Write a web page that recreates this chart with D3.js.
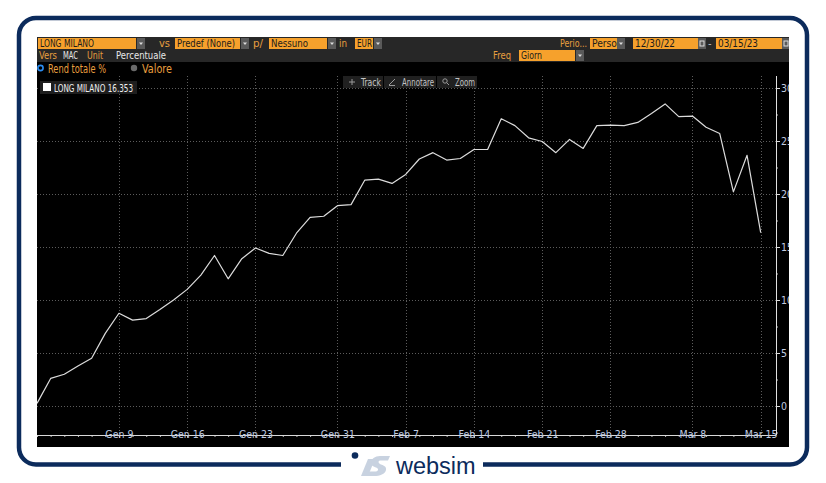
<!DOCTYPE html>
<html><head><meta charset="utf-8">
<script src="https://cdn.jsdelivr.net/npm/d3@7"></script>
<style>html,body{margin:0;padding:0;background:#fff;}svg{display:block;}</style>
</head><body>
<svg id="c" width="826" height="483"></svg>
<script>
// ---- data ----
const dates = ["2022-12-30",
 "2023-01-02","2023-01-03","2023-01-04","2023-01-05","2023-01-06","2023-01-09","2023-01-10","2023-01-11","2023-01-12","2023-01-13",
 "2023-01-16","2023-01-17","2023-01-18","2023-01-19","2023-01-20","2023-01-23","2023-01-24","2023-01-25","2023-01-26","2023-01-27",
 "2023-01-30","2023-01-31","2023-02-01","2023-02-02","2023-02-03","2023-02-06","2023-02-07","2023-02-08","2023-02-09","2023-02-10",
 "2023-02-13","2023-02-14","2023-02-15","2023-02-16","2023-02-17","2023-02-20","2023-02-21","2023-02-22","2023-02-23","2023-02-24",
 "2023-02-27","2023-02-28","2023-03-01","2023-03-02","2023-03-03","2023-03-06","2023-03-07","2023-03-08","2023-03-09","2023-03-10",
 "2023-03-13","2023-03-14","2023-03-15"];
const values = [0.25,2.6,3.0,3.77,4.5,6.85,8.75,8.1,8.25,9.1,10.0,11.0,12.35,14.2,12.0,13.9,14.9,14.4,14.2,16.3,17.8,17.9,18.9,19.0,
 21.3,21.4,21.0,21.85,23.3,23.9,23.2,23.35,24.2,24.2,27.1,26.45,25.3,24.95,23.9,25.15,24.3,26.45,26.5,26.45,26.75,27.6,28.5,27.3,27.35,
 26.3,25.7,20.2,23.65,16.353];
const tickDates = ["2023-01-09","2023-01-16","2023-01-23","2023-01-31","2023-02-07","2023-02-14","2023-02-21","2023-02-28","2023-03-08","2023-03-15"];
const tickLabels = ["Gen 9","Gen 16","Gen 23","Gen 31","Feb 7","Feb 14","Feb 21","Feb 28","Mar 8","Mar 15"];
const yTicks = [0,5,10,15,20,25,30];
const yMinor = [-2.5,2.5,7.5,12.5,17.5,22.5,27.5];
const seriesName = "LONG MILANO";
const lastValue = "16.353";

// ---- drawing ----
const svg = d3.select("#c");
const NAVY = "#0c2b5c";
const FONT = "'Liberation Sans Narrow','DejaVu Sans Condensed',sans-serif";

// frame
svg.append("rect").attr("x",19).attr("y",18).attr("width",788).attr("height",446.5)
  .attr("rx",17).attr("fill","#fff").attr("stroke",NAVY).attr("stroke-width",4.5);

// screenshot area
const SX0=37, SX1=789, SY0=37, SY1=447;
const defs = svg.append("defs");
defs.append("clipPath").attr("id","shot").append("rect").attr("x",SX0).attr("y",SY0).attr("width",SX1-SX0).attr("height",SY1-SY0);
const g = svg.append("g").attr("clip-path","url(#shot)");
g.append("rect").attr("x",SX0).attr("y",SY0).attr("width",SX1-SX0).attr("height",SY1-SY0).attr("fill","#000");
g.append("rect").attr("x",SX0).attr("y",SY0).attr("width",SX1-SX0).attr("height",25).attr("fill","#272727");

function lab(x,y,txt,col,size,len){
  const t = g.append("text").attr("x",x).attr("y",y).text(txt).attr("font-family",FONT)
    .attr("font-size",size||11).attr("fill",col||"#e89f3f");
  if(len) t.attr("textLength",len).attr("lengthAdjust","spacingAndGlyphs");
  return t;
}
function box(x,y,w,h,txt,len){
  g.append("rect").attr("x",x).attr("y",y).attr("width",w).attr("height",h).attr("fill","#f6a12c");
  if(txt) lab(x+2,y+h-2,txt,"#1b1b1b",11,len);
}
function drop(x,y,w,h){
  g.append("rect").attr("x",x).attr("y",y).attr("width",w).attr("height",h).attr("fill","#5a5a5a");
  g.append("path").attr("d",`M${x+w/2-2},${y+h/2-1}L${x+w/2+2},${y+h/2-1}L${x+w/2},${y+h/2+1.5}Z`).attr("fill","#ddd");
}
function cal(x,y,w,h){
  g.append("rect").attr("x",x).attr("y",y).attr("width",w).attr("height",h).attr("fill","#5a5a5a");
  g.append("rect").attr("x",x+2).attr("y",y+3).attr("width",w-4).attr("height",h-6).attr("fill","none").attr("stroke","#ddd").attr("stroke-width",1);
}
const r1=38, rh=11;
box(38,r1,98,rh,seriesName,54); drop(137,r1,8,rh);
lab(159,r1+9,"vs",null,11,11);
box(175,r1,65,rh,"Predef (None)",58); drop(241,r1,8,rh);
lab(253,r1+9,"p/",null,11,10);
box(269,r1,58,rh,"Nessuno",37); drop(328,r1,8,rh);
lab(339,r1+9,"in",null,11,8);
box(355,r1,18,rh,"EUR",15); drop(374,r1,8,rh);
lab(560,r1+9,"Perio...",null,11,27);
box(590,r1,27,rh,"Perso",25); drop(617,r1,8,rh);
box(633,r1,65,rh,"12/30/22",40); cal(698,r1,8,rh);
lab(708,r1+9,"-","#bbb");
box(716,r1,66,rh,"03/15/23",40); cal(782,r1,8,rh);
const r2=50;
lab(39,r2+9,"Vers",null,10.5,18); lab(63,r2+9,"MAC","#e8e8e8",10.5,15); lab(87,r2+9,"Unit",null,10.5,16);
lab(116,r2+9,"Percentuale","#e8e8e8",10.5,50);
lab(493,r2+9,"Freq",null,10.5,18);
box(519,r2,56,rh,"Giorn",21); drop(576,r2,8,rh);
// radio row
g.append("circle").attr("cx",40.5).attr("cy",68).attr("r",2.6).attr("fill","#000").attr("stroke","#2b8cf0").attr("stroke-width",1.6);
lab(48,72.5,"Rend totale %","#e89f3f",11.5,58);
g.append("circle").attr("cx",134).attr("cy",68).attr("r",3.2).attr("fill","#6a6a6a");
lab(142,72.5,"Valore","#e89f3f",11.5,30);

// plot
const PX0=37, PX1=776, PY0=76, PY1=435;
const x = d3.scalePoint().domain(dates).range([37,760.7]);
const y = d3.scaleLinear().domain([0,30]).range([406,88]);

// gridlines
g.append("g").selectAll("line").data(yTicks).join("line")
  .attr("x1",PX0).attr("x2",PX1).attr("y1",d=>Math.round(y(d))+0.5).attr("y2",d=>Math.round(y(d))+0.5)
  .attr("stroke","#5c5c5c").attr("stroke-width",1).attr("stroke-dasharray","1,2");
g.append("g").selectAll("line").data(tickDates).join("line")
  .attr("x1",d=>Math.round(x(d))+0.5).attr("x2",d=>Math.round(x(d))+0.5).attr("y1",PY0).attr("y2",PY1)
  .attr("stroke","#5c5c5c").attr("stroke-width",1).attr("stroke-dasharray","1,2");

// x axis
const xa = g.append("g").attr("transform",`translate(0,${PY1})`)
  .call(d3.axisBottom(x).tickValues(dates).tickSize(2).tickSizeOuter(0).tickFormat(""));
xa.select(".domain").attr("stroke","#d0d0d0");
xa.selectAll(".tick line").attr("stroke","#bbb");
g.append("line").attr("x1",PX0).attr("x2",PX1).attr("y1",PY1+0.5).attr("y2",PY1+0.5).attr("stroke","#d8d8d8");
const xl = g.append("g").attr("transform",`translate(0,${PY1})`)
  .call(d3.axisBottom(x).tickValues(tickDates).tickSize(3).tickFormat((d,i)=>tickLabels[i]));
xl.select(".domain").remove();
xl.selectAll(".tick line").attr("stroke","#ccc");
xl.selectAll("text").attr("font-family",FONT).attr("font-size",10.5).attr("fill","#bfcbe0").attr("dy","0.05em").attr("y",2.5);

// y axis
const ya = g.append("g").attr("transform",`translate(${PX1},0)`)
  .call(d3.axisRight(y).tickValues(yTicks).tickSize(4).tickFormat(d3.format("d")));
ya.select(".domain").remove();
ya.selectAll(".tick line").attr("stroke","#ddd");
ya.selectAll("text").attr("font-family",FONT).attr("font-size",10.5).attr("fill","#c3cde0").attr("x",5);
const ym = g.append("g").attr("transform",`translate(${PX1},0)`)
  .call(d3.axisRight(y).tickValues(yMinor).tickSize(2).tickFormat(""));
ym.select(".domain").remove();
ym.selectAll(".tick line").attr("stroke","#bbb");
g.append("line").attr("x1",PX1+0.5).attr("x2",PX1+0.5).attr("y1",PY0).attr("y2",PY1).attr("stroke","#e0e0e0");

// series line
g.append("path").datum(values)
  .attr("d",d3.line().x((d,i)=>x(dates[i])).y(d=>y(d)))
  .attr("fill","none").attr("stroke","#dcdcdc").attr("stroke-width",1.2).attr("stroke-linejoin","round");

// legend
g.append("rect").attr("x",40).attr("y",81).attr("width",97).attr("height",13).attr("fill","#1e1e1e");
g.append("rect").attr("x",43).attr("y",83).attr("width",8).attr("height",8).attr("fill","#fff");
lab(54,91.5,seriesName+" "+lastValue,"#eee",10.5,79);

// toolbar
g.append("rect").attr("x",343).attr("y",76).attr("width",134).attr("height",12).attr("fill","#202020");
g.append("line").attr("x1",383.5).attr("x2",383.5).attr("y1",76).attr("y2",88).attr("stroke","#000");
g.append("line").attr("x1",436.5).attr("x2",436.5).attr("y1",76).attr("y2",88).attr("stroke","#000");
g.append("path").attr("d","M349,82H355M352,79V85").attr("stroke","#999").attr("stroke-width",1);
g.append("path").attr("d","M389,85L395,79M389,85.5H395").attr("stroke","#999").attr("stroke-width",1);
g.append("circle").attr("cx",445).attr("cy",81).attr("r",2.2).attr("fill","none").attr("stroke","#999");
g.append("line").attr("x1",446.6).attr("y1",82.6).attr("x2",449).attr("y2",85).attr("stroke","#999");
lab(361,85.5,"Track","#c4c4c4",10,20);
lab(402,85.5,"Annotare","#c4c4c4",10,32);
lab(455,85.5,"Zoom","#c4c4c4",10,20);

// logo
svg.append("rect").attr("x",341).attr("y",452).attr("width",142).attr("height",28).attr("fill","#fff");
svg.append("circle").attr("cx",355).attr("cy",455.5).attr("r",3.3).attr("fill",NAVY);
svg.append("path").attr("d","M361,476L368,459H375L368,476Z").attr("fill","#c8d2e0");
svg.append("path").attr("d","M374,476C380,476 385,474 386,470C387,466 382,465 380,464C378,463 378,461 380,460.5H388L390,456H380C375,456 371,459 371,463C371,466 375,467 377,468C379,469 378,471 376,471.5H367L365,476Z").attr("fill","#c8d2e0");
svg.append("text").attr("x",396).attr("y",473.5).text("websim").attr("font-family","'Liberation Sans',Arial,sans-serif")
  .attr("font-size",23.5).attr("fill",NAVY);
</script>
</body></html>
